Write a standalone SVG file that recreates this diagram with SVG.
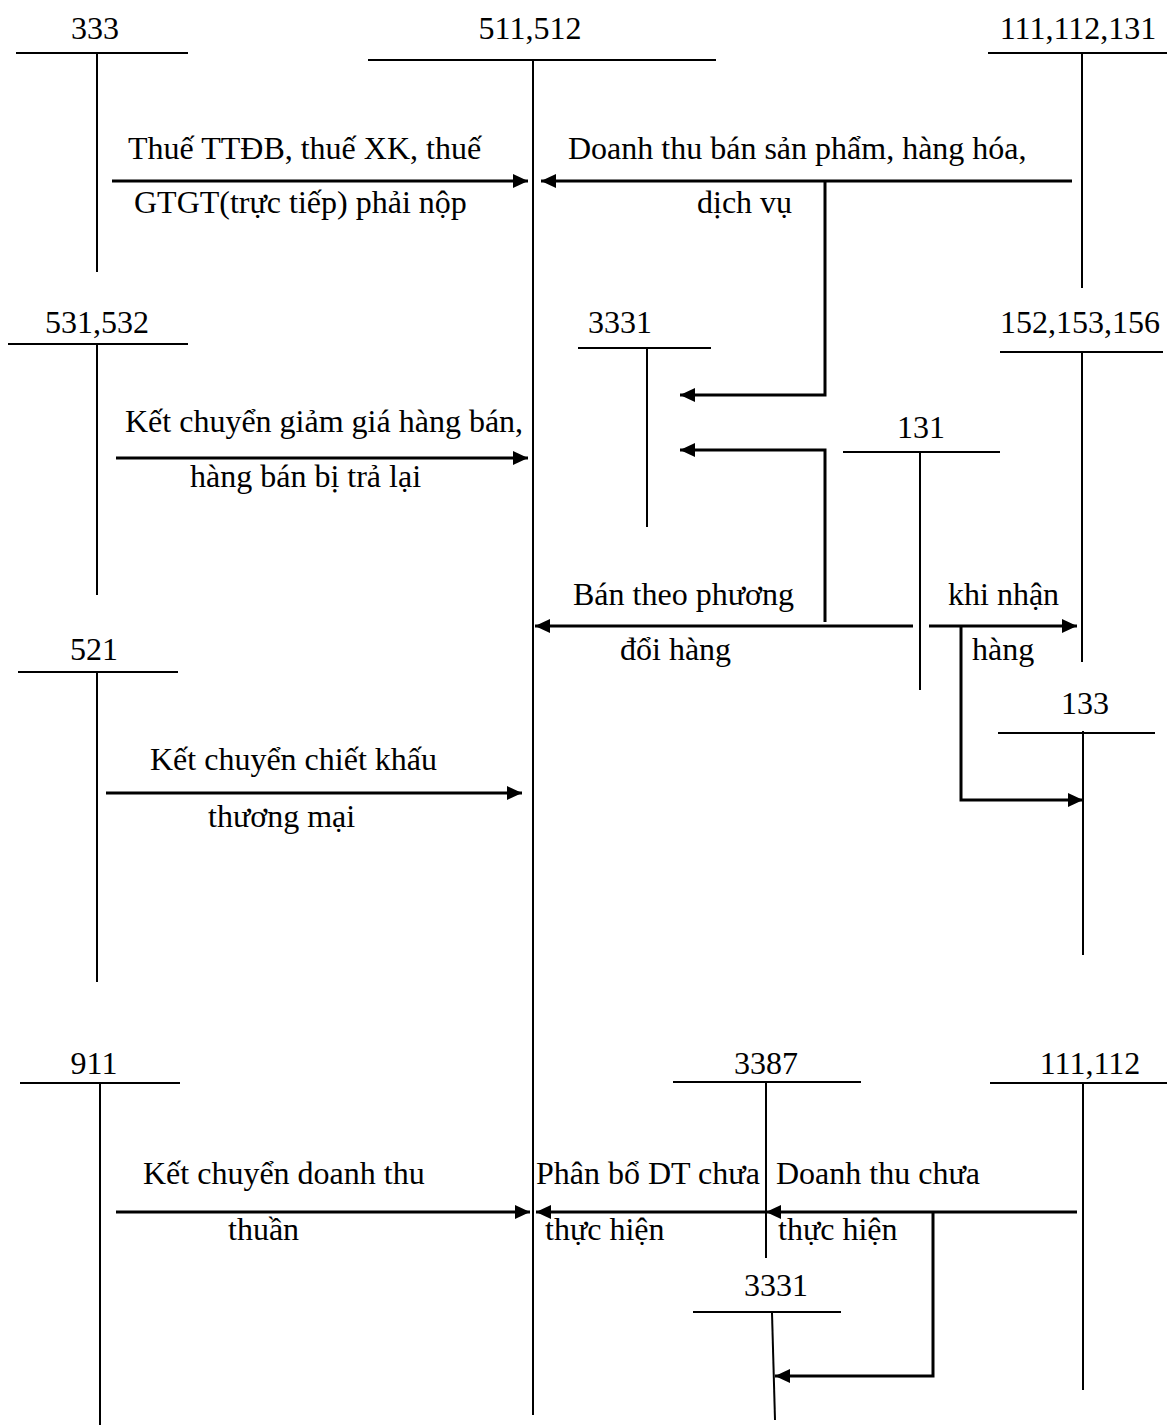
<svg xmlns="http://www.w3.org/2000/svg" width="1167" height="1425" viewBox="0 0 1167 1425">
<defs>
<style>
text{font-family:"Liberation Serif","Times New Roman",serif;font-size:32px;fill:#000}
.t{stroke:#000;stroke-width:2;fill:none}
.a{stroke:#000;stroke-width:3;fill:none}
.m{text-anchor:middle}
</style>
<marker id="ah" markerUnits="userSpaceOnUse" markerWidth="16" markerHeight="14" refX="15" refY="7" orient="auto">
<path d="M0,0 L15,7 L0,14 z" fill="#000"/>
</marker>
</defs>
<rect width="1167" height="1425" fill="#fff"/>

<g id="acc333"><text class="m" x="95" y="39">333</text><line class="t" x1="16" y1="53" x2="188" y2="53"/><line class="t" x1="97" y1="53" x2="97" y2="272"/></g>
<g id="acc511"><text class="m" x="530" y="39">511,512</text><line class="t" x1="368" y1="60" x2="716" y2="60"/><line class="t" x1="533" y1="60" x2="533" y2="1415"/></g>
<g id="acc111a"><text class="m" x="1078" y="39">111,112,131</text><line class="t" x1="988" y1="53" x2="1167" y2="53"/><line class="t" x1="1082" y1="53" x2="1082" y2="288"/></g>
<g id="acc531"><text class="m" x="97" y="333">531,532</text><line class="t" x1="8" y1="344" x2="188" y2="344"/><line class="t" x1="97" y1="344" x2="97" y2="595"/></g>
<g id="acc3331a"><text class="m" x="620" y="333">3331</text><line class="t" x1="578" y1="348" x2="711" y2="348"/><line class="t" x1="647" y1="348" x2="647" y2="527"/></g>
<g id="acc152"><text class="m" x="1080" y="333">152,153,156</text><line class="t" x1="1000" y1="352" x2="1163" y2="352"/><line class="t" x1="1082" y1="352" x2="1082" y2="662"/></g>
<g id="acc131"><text class="m" x="921" y="438">131</text><line class="t" x1="843" y1="452" x2="1000" y2="452"/><line class="t" x1="920" y1="452" x2="920" y2="690"/></g>
<g id="acc521"><text class="m" x="94" y="660">521</text><line class="t" x1="18" y1="672" x2="178" y2="672"/><line class="t" x1="97" y1="672" x2="97" y2="982"/></g>
<g id="acc133"><text class="m" x="1085" y="714">133</text><line class="t" x1="998" y1="733" x2="1155" y2="733"/><line class="t" x1="1083" y1="731" x2="1083" y2="955"/></g>
<g id="acc911"><text class="m" x="94" y="1074">911</text><line class="t" x1="20" y1="1083" x2="180" y2="1083"/><line class="t" x1="100" y1="1083" x2="100" y2="1425"/></g>
<g id="acc3387"><text class="m" x="766" y="1074">3387</text><line class="t" x1="673" y1="1082" x2="861" y2="1082"/><line class="t" x1="766" y1="1082" x2="766" y2="1258"/></g>
<g id="acc111b"><text class="m" x="1090" y="1074">111,112</text><line class="t" x1="990" y1="1083" x2="1167" y2="1083"/><line class="t" x1="1083" y1="1083" x2="1083" y2="1390"/></g>
<g id="acc3331b"><text class="m" x="776" y="1296">3331</text><line class="t" x1="693" y1="1312" x2="841" y2="1312"/><line class="t" x1="772" y1="1313" x2="775" y2="1420"/></g>

<g id="connectors">
<line class="a" x1="112" y1="181" x2="528" y2="181" marker-end="url(#ah)"/>
<line class="a" x1="1072" y1="181" x2="541" y2="181" marker-end="url(#ah)"/>
<polyline class="a" points="825,181 825,395 680,395" marker-end="url(#ah)"/>
<line class="a" x1="116" y1="458" x2="528" y2="458" marker-end="url(#ah)"/>
<polyline class="a" points="825,622 825,450 680,450" marker-end="url(#ah)"/>
<line class="a" x1="913" y1="626" x2="535" y2="626" marker-end="url(#ah)"/>
<line class="a" x1="929" y1="626" x2="1077" y2="626" marker-end="url(#ah)"/>
<polyline class="a" points="961,626 961,800 1083,800" marker-end="url(#ah)"/>
<line class="a" x1="106" y1="793" x2="522" y2="793" marker-end="url(#ah)"/>
<line class="a" x1="116" y1="1212" x2="530" y2="1212" marker-end="url(#ah)"/>
<line class="a" x1="766" y1="1212" x2="536" y2="1212" marker-end="url(#ah)"/>
<line class="a" x1="1077" y1="1212" x2="766" y2="1212" marker-end="url(#ah)"/>
<polyline class="a" points="933,1212 933,1376 775,1376" marker-end="url(#ah)"/>
</g>

<g id="labels">
<text x="128" y="159">Thuế TTĐB, thuế XK, thuế</text>
<text x="134" y="213">GTGT(trực tiếp) phải nộp</text>
<text x="568" y="159">Doanh thu bán sản phẩm, hàng hóa,</text>
<text x="697" y="213">dịch vụ</text>
<text x="125" y="432">Kết chuyển giảm giá hàng bán,</text>
<text x="190" y="487">hàng bán bị trả lại</text>
<text x="573" y="605">Bán theo phương</text>
<text x="620" y="660">đổi hàng</text>
<text x="948" y="605">khi nhận</text>
<text x="972" y="660">hàng</text>
<text x="150" y="770">Kết chuyển chiết khấu</text>
<text x="208" y="827">thương mại</text>
<text x="143" y="1184">Kết chuyển doanh thu</text>
<text x="228" y="1240">thuần</text>
<text x="536" y="1184">Phân bổ DT chưa</text>
<text x="545" y="1240">thực hiện</text>
<text x="776" y="1184">Doanh thu chưa</text>
<text x="778" y="1240">thực hiện</text>
</g>
</svg>
